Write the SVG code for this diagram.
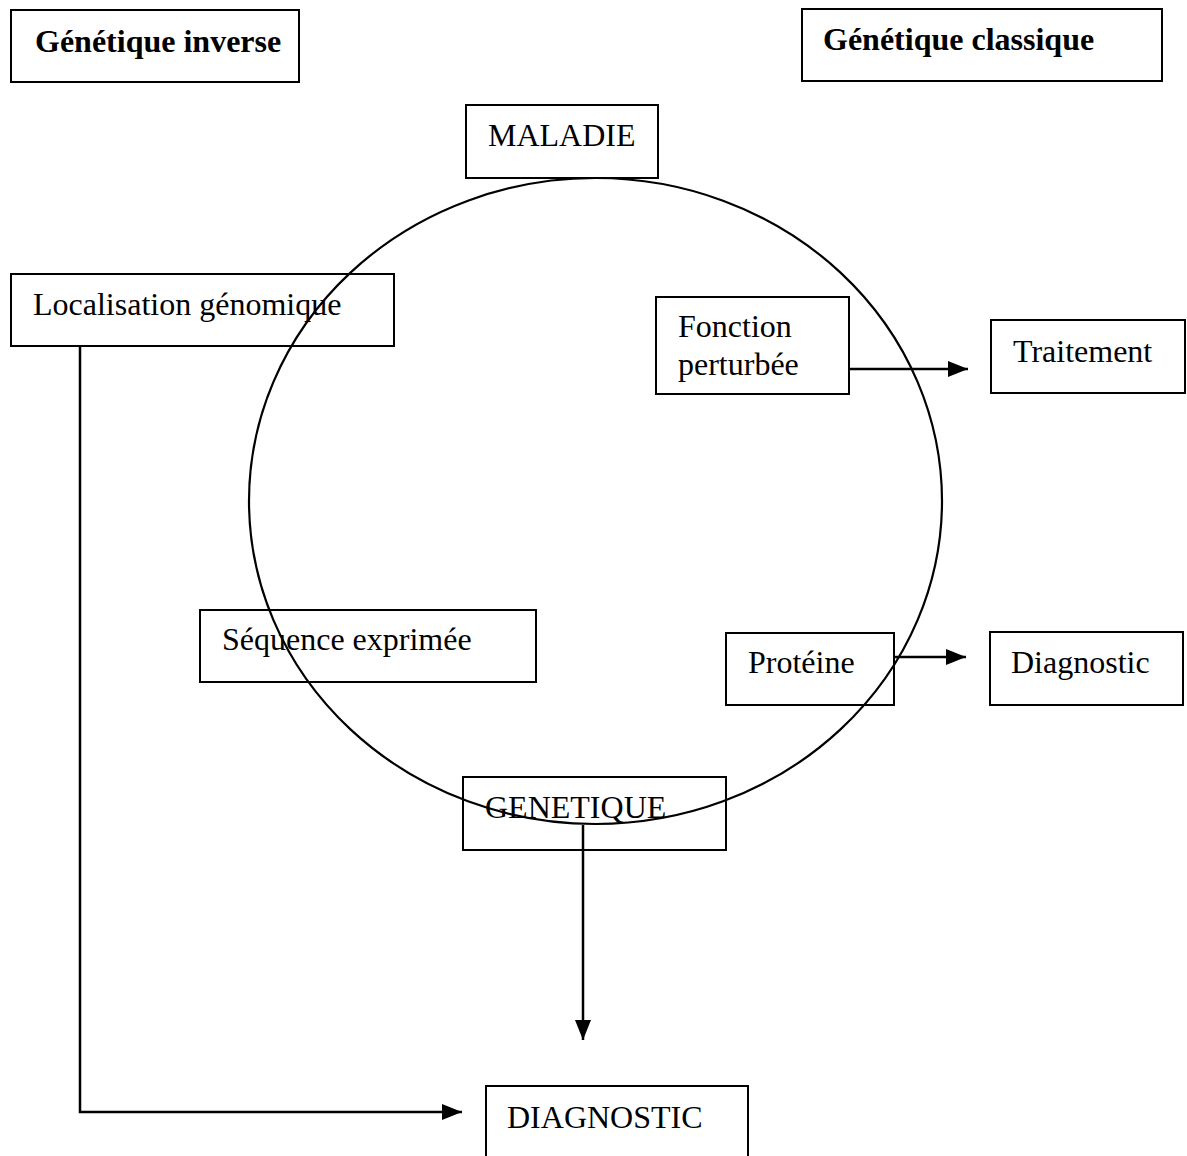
<svg xmlns="http://www.w3.org/2000/svg" width="1187" height="1156" viewBox="0 0 1187 1156">
<defs>
<style>
.box{fill:none;stroke:#000;stroke-width:2}
.t{font-family:"Liberation Serif","Times New Roman",serif;font-size:32px;fill:#000}
.b{font-weight:bold}
.c{fill:none;stroke:#000;stroke-width:2.2}
</style>
<marker id="ah2" markerWidth="20" markerHeight="16" refX="20" refY="8" orient="auto" markerUnits="userSpaceOnUse" viewBox="0 0 20 16">
<path d="M0,0 L20,8 L0,16 Z" fill="#000"/>
</marker>
</defs>
<rect width="1187" height="1156" fill="#fff"/>
<g id="cycle">
<ellipse cx="595.5" cy="501" rx="346.5" ry="323" class="c"/>
</g>
<g id="genetique-inverse"><rect x="11" y="10" width="288" height="72" class="box"/><text x="35" y="52" class="t b">Génétique inverse</text></g>
<g id="genetique-classique"><rect x="802" y="9" width="360" height="72" class="box"/><text x="823" y="50" class="t b">Génétique classique</text></g>
<g id="maladie"><rect x="466" y="105" width="192" height="73" class="box"/><text x="488" y="146" class="t">MALADIE</text></g>
<g id="localisation"><rect x="11" y="274" width="383" height="72" class="box"/><text x="33" y="315" class="t">Localisation génomique</text></g>
<g id="fonction"><rect x="656" y="297" width="193" height="97" class="box"/><text x="678" y="337" class="t">Fonction</text><text x="678" y="375" class="t">perturbée</text></g>
<g id="traitement"><rect x="991" y="320" width="194" height="73" class="box"/><text x="1013" y="362" class="t">Traitement</text></g>
<g id="sequence"><rect x="200" y="610" width="336" height="72" class="box"/><text x="222" y="650" class="t">Séquence exprimée</text></g>
<g id="proteine"><rect x="726" y="633" width="168" height="72" class="box"/><text x="748" y="673" class="t">Protéine</text></g>
<g id="diagnostic"><rect x="990" y="632" width="193" height="73" class="box"/><text x="1011" y="673" class="t">Diagnostic</text></g>
<g id="genetique"><rect x="463" y="777" width="263" height="73" class="box"/><text x="485" y="818" class="t">GENETIQUE</text></g>
<g id="diagnostic-final"><rect x="486" y="1086" width="262" height="80" class="box"/><text x="507" y="1128" class="t">DIAGNOSTIC</text></g>
<g id="connectors" fill="none" stroke="#000" stroke-width="2.5">
<line x1="849" y1="369" x2="968" y2="369" marker-end="url(#ah2)"/>
<line x1="894" y1="657" x2="966" y2="657" marker-end="url(#ah2)"/>
<line x1="583" y1="825" x2="583" y2="1040" marker-end="url(#ah2)"/>
<polyline points="80,346 80,1112 462,1112" marker-end="url(#ah2)"/>
</g>
</svg>
